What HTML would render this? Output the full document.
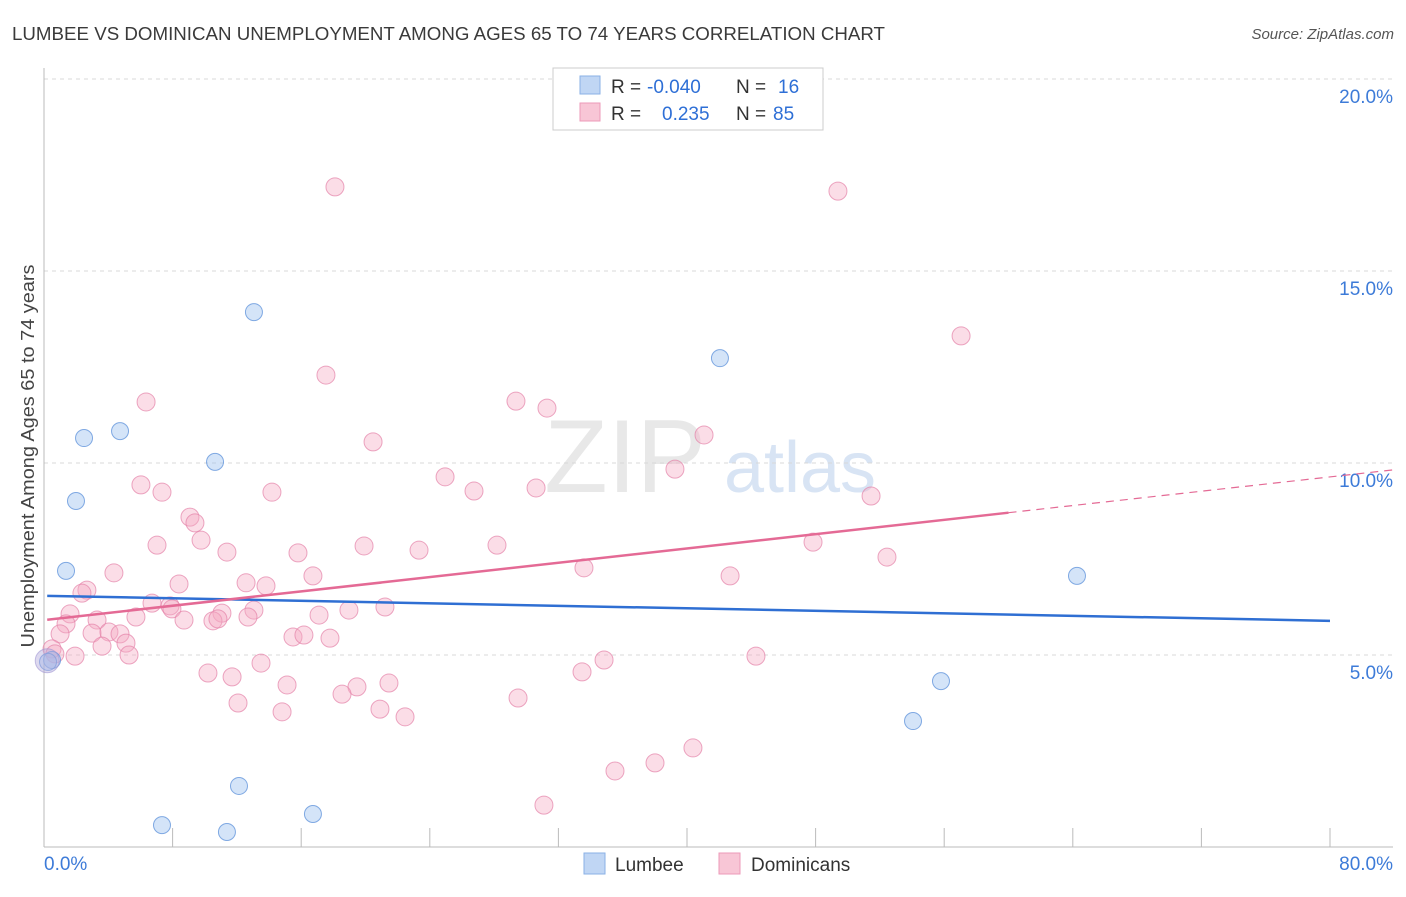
<!DOCTYPE html>
<html><head><meta charset="utf-8"><style>
body{margin:0;background:#fff;font-family:"Liberation Sans",sans-serif;}
svg text{font-family:"Liberation Sans",sans-serif;}
</style></head><body>
<svg id="chart" width="1406" height="892" xmlns="http://www.w3.org/2000/svg">
<text x="12" y="40" font-size="18" fill="#3a3a3a" textLength="873" lengthAdjust="spacingAndGlyphs">LUMBEE VS DOMINICAN UNEMPLOYMENT AMONG AGES 65 TO 74 YEARS CORRELATION CHART</text>
<text x="1394" y="39" font-size="15" fill="#555" text-anchor="end" font-style="italic">Source: ZipAtlas.com</text>
<g>
<text x="625" y="492" font-size="104" fill="#e8e8e8" text-anchor="middle" font-family="Liberation Serif, serif">ZIP</text>
<text x="800" y="492" font-size="72" fill="#d8e4f4" text-anchor="middle">atlas</text>
</g>
<g id="grid"></g>
<g id="axes"></g>
<g id="marks"></g>
<text transform="translate(34,456) rotate(-90)" font-size="18" fill="#444" text-anchor="middle" textLength="383" lengthAdjust="spacingAndGlyphs">Unemployment Among Ages 65 to 74 years</text>
<g>
<rect x="553" y="68" width="270" height="62" fill="#fff" stroke="#ccc"/>
<rect x="580" y="76" width="20" height="18" fill="#c0d6f4" stroke="#8ab0e6"/>
<rect x="580" y="103" width="20" height="18" fill="#f8c6d6" stroke="#ec9ab8"/>
<text x="611" y="93" font-size="19" fill="#333">R = <tspan fill="#2e6fd6" x="647">-0.040</tspan></text>
<text x="736" y="93" font-size="19" fill="#333">N = <tspan fill="#2e6fd6" x="778">16</tspan></text>
<text x="611" y="120" font-size="19" fill="#333">R = <tspan fill="#2e6fd6" x="662">0.235</tspan></text>
<text x="736" y="120" font-size="19" fill="#333">N = <tspan fill="#2e6fd6" x="773">85</tspan></text>
</g>
<g>
<rect x="584" y="853" width="21" height="21" fill="#c0d6f4" stroke="#8ab0e6"/>
<text x="615" y="871" font-size="19" fill="#333">Lumbee</text>
<rect x="719" y="853" width="21" height="21" fill="#f8c6d6" stroke="#ec9ab8"/>
<text x="751" y="871" font-size="19" fill="#333">Dominicans</text>
</g>
</svg>
<script>
const yTicks=[5,10,15,20];
const yTickLabels=["5.0%","10.0%","15.0%","20.0%"];
const xTickLabels=["0.0%","80.0%"];
const lumbeeX=[13.06,42.05,2.49,4.73,10.64,1.99,1.37,64.26,0.5,0.25,55.8,54.06,12.13,7.34,11.38,16.73];
const lumbeeY=[13.93,12.73,10.65,10.83,10.03,9.01,7.19,7.06,4.87,4.82,4.32,3.28,1.59,0.57,0.39,0.86];
const domX=[18.1,49.39,57.05,17.54,29.36,31.29,6.35,20.47,41.06,39.25,24.95,26.75,30.61,14.18,7.34,6.03,9.08,9.39,51.45,7.03,9.77,11.38,15.8,19.91,23.33,28.18,47.84,52.44,4.35,33.59,42.68,16.73,12.57,13.81,8.4,2.67,2.36,6.72,7.84,7.96,11.07,13.06,17.11,18.97,21.21,1.62,3.3,1.37,5.72,8.71,10.51,10.82,12.69,1.0,2.99,4.04,4.73,15.49,16.17,17.79,3.61,5.1,0.5,0.68,1.93,5.29,13.5,34.84,44.29,10.2,11.7,33.47,15.12,19.47,21.46,18.54,12.07,29.49,20.9,14.81,22.46,40.37,38.01,35.52,31.1];
const domY=[17.19,17.08,13.31,12.29,11.61,11.43,11.59,10.55,10.73,9.84,9.64,9.27,9.35,9.24,9.24,9.43,8.59,8.44,9.14,7.86,7.99,7.68,7.66,7.84,7.73,7.86,7.94,7.55,7.14,7.27,7.06,7.06,6.88,6.8,6.85,6.69,6.61,6.35,6.28,6.2,6.09,6.17,6.04,6.17,6.25,6.07,5.91,5.81,5.99,5.91,5.89,5.94,5.99,5.55,5.57,5.6,5.55,5.47,5.52,5.44,5.23,5.31,5.16,5.03,4.97,5.0,4.79,4.87,4.97,4.53,4.43,4.56,4.22,4.17,4.27,3.98,3.75,3.88,3.59,3.52,3.39,2.58,2.19,1.98,1.09];
const lumbeeTrend=[6.54,5.89];   // y at x=0, x=80
const domTrend=[5.91,0.0466];     // intercept, slope
const NS="http://www.w3.org/2000/svg";
const X0=44,X1=1330,Y0=847,YT=79;
function sx(v){return X0+(v/80)*(X1-X0);}
function sy(v){return Y0-(v/20)*(Y0-YT);}
function mk(tag,attrs,parent){const e=document.createElementNS(NS,tag);for(const k in attrs)e.setAttribute(k,attrs[k]);parent.appendChild(e);return e;}
const grid=document.getElementById('grid'),axes=document.getElementById('axes'),marks=document.getElementById('marks');
yTicks.forEach((t,i)=>{
 const l=mk('line',{x1:44,x2:1393,y1:sy(t),y2:sy(t),stroke:'#d8d8d8','stroke-dasharray':'4,4'},grid);
 
 
 const tx=mk('text',{x:1393,y:sy(t)+24,'font-size':19,fill:'#3d7bd8','text-anchor':'end'},axes);
 tx.textContent=yTickLabels[i];
 
 
});
const ya=mk('line',{x1:44,x2:44,y1:68,y2:847,stroke:'#bbb'},axes);


const xa=mk('line',{x1:44,x2:1393,y1:847,y2:847,stroke:'#bbb'},axes);


for(let i=0;i<=10;i++){
 const t=mk('line',{x1:sx(i*8),x2:sx(i*8),y1:828,y2:847,stroke:'#bbb'},axes);
 
 
}
[[0,'start',44],[80,'end',1393]].forEach((d,i)=>{
 const t=mk('text',{x:d[2],y:870,'font-size':19,fill:'#3d7bd8','text-anchor':d[1]},axes);
 t.textContent=xTickLabels[i];
 
 
});
domX.forEach((x,i)=>{
 const c=mk('circle',{cx:sx(x),cy:sy(domY[i]),r:9,fill:'rgba(244,170,196,0.4)',stroke:'rgba(228,130,168,0.7)','stroke-width':1},marks);
 
 
});
lumbeeX.forEach((x,i)=>{
 const c=mk('circle',{cx:sx(x),cy:sy(lumbeeY[i]),r:8.5,fill:'rgba(160,195,240,0.45)',stroke:'rgba(100,150,220,0.8)','stroke-width':1},marks);
 
 
});
const big=mk('circle',{cx:sx(0.2),cy:sy(4.85),r:12,fill:'rgba(180,170,220,0.45)',stroke:'rgba(160,150,210,0.6)'},marks);


const lt=mk('line',{x1:sx(0.2),y1:sy(lumbeeTrend[0]),x2:sx(80),y2:sy(lumbeeTrend[1]),stroke:'#2f6fd3','stroke-width':2.5},marks);


const dy=x=>domTrend[0]+domTrend[1]*x;
const dt=mk('line',{x1:sx(0.2),y1:sy(dy(0.2)),x2:sx(60),y2:sy(dy(60)),stroke:'#e46a95','stroke-width':2.5},marks);


const dd=mk('line',{x1:sx(60),y1:sy(dy(60)),x2:sx(83.9),y2:sy(dy(83.9)),stroke:'#e46a95','stroke-width':1.2,'stroke-dasharray':'8,6'},marks);


</script>
</body></html>
